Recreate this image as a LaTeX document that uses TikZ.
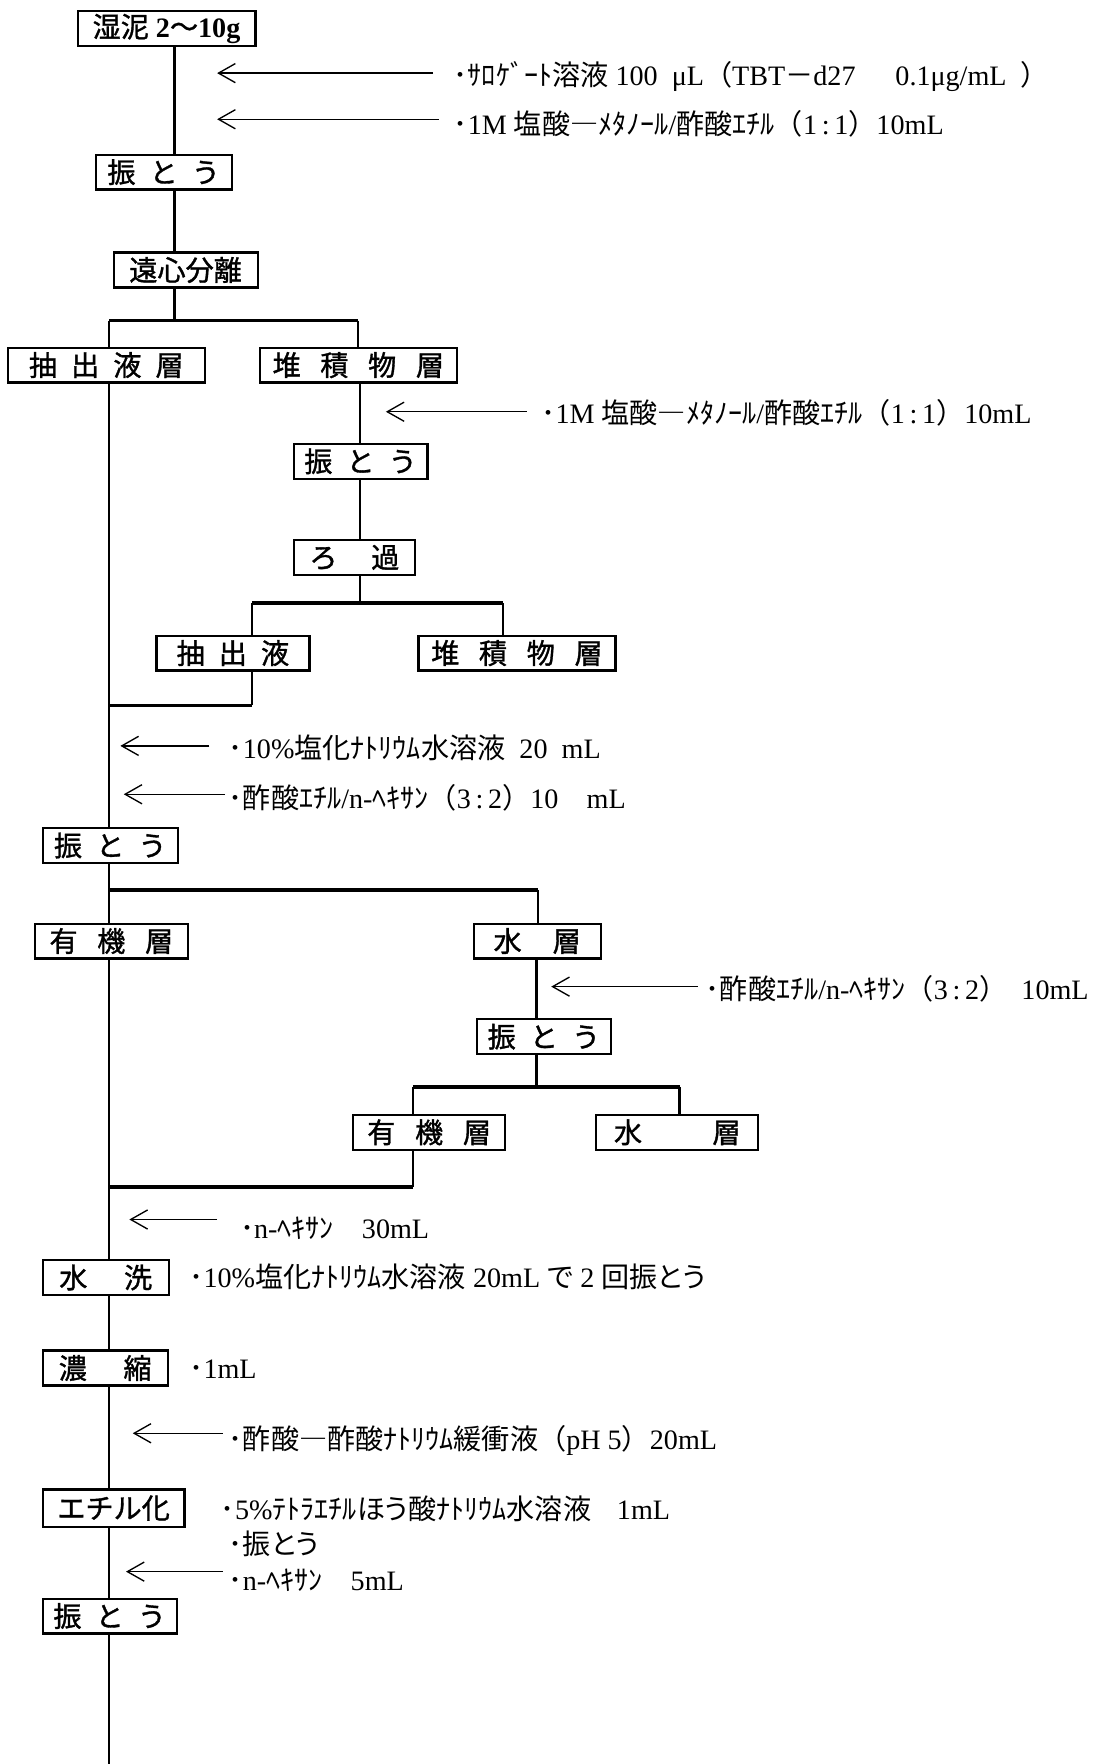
\documentclass[tikz,border=0pt]{standalone}
\usepackage{fontspec}
\setmainfont{Liberation Serif}
\newfontfamily\jp{Noto Sans CJK JP}
\newfontfamily\jpp{Noto Sans CJK JP}[RawFeature=+palt]
\newfontfamily\jpb{Noto Sans CJK JP}[FakeBold=1.2]
\usetikzlibrary{arrows.meta}
\newcommand{\gap}[1][.5em]{\hspace{#1}}

\tikzset{
  box/.style={draw, line width=1pt, inner sep=0pt, minimum height=15.5pt,
    font=\jpb\fontsize{12.5}{14}\selectfont},
  note/.style={anchor=west, inner sep=0pt, font=\fontsize{12.5}{14}\selectfont},
  flow/.style={line width=1.1pt},
  fork/.style={line width=1.6pt},
  addarrow/.style={line width=0.6pt, -{Straight Barb[length=7.5pt,width=8.5pt]}},
}

\begin{document}
\begin{tikzpicture}[x=0.5pt,y=-0.5pt]
\useasboundingbox (0,0) rectangle (976,1568);

% Process boxes
\node[box, minimum width=79pt] (wet) at (148,25.5) {湿泥\gap[.25em]{\rmfamily\bfseries 2}～{\rmfamily\bfseries 10g}};
\node[box, minimum width=60.5pt] (shk1) at (145.5,153) {振\gap と\gap う};
\node[box, minimum width=64pt] (cent) at (165,240) {遠心分離};
\node[box, minimum width=87.5pt] (ext1) at (94.5,324.5) {抽\gap 出\gap 液\gap 層};
\node[box, minimum width=87.5pt] (sed1) at (318.5,324.5) {堆\gap[.7em]積\gap[.7em]物\gap[.7em]層};
\node[box, minimum width=59.5pt] (shk2) at (320.5,410) {振\gap と\gap う};
\node[box, minimum width=54pt] (filt) at (315,495.5) {ろ\gap[1.2em]過};
\node[box, minimum width=68pt] (ext2) at (207,580.5) {抽\gap 出\gap 液};
\node[box, minimum width=87.5pt] (sed2) at (459.5,580.5) {堆\gap[.7em]積\gap[.7em]物\gap[.7em]層};
\node[box, minimum width=60pt] (shk3) at (98,751.5) {振\gap と\gap う};
\node[box, minimum width=68pt] (org1) at (99,836.5) {有\gap[.7em]機\gap[.7em]層};
\node[box, minimum width=56.5pt] (aq1) at (477.5,836.5) {水\gap[1.1em]層};
\node[box, minimum width=59.5pt] (shk4) at (483.5,921.5) {振\gap と\gap う};
\node[box, minimum width=67.5pt] (org2) at (381.5,1006.5) {有\gap[.7em]機\gap[.7em]層};
\node[box, minimum width=72pt] (aq2) at (602,1006.5) {水\gap[2.5em]層};
\node[box, minimum width=56pt] (wash) at (94,1135.5) {水\gap[1.3em]洗};
\node[box, minimum width=55.5pt] (conc) at (93.5,1216) {濃\gap[1.3em]縮};
\node[box, minimum width=63pt, minimum height=16.5pt] (ethyl) at (101,1340.5) {エチル化};
\node[box, minimum width=59.5pt] (shk5) at (97.5,1436.5) {振\gap と\gap う};

% Reagent notes
\node[note] (t1) at (403,68) {{\jp ･ｻﾛｹﾞｰﾄ溶液} 100\enspace μL{\jp （}TBT{\jp －}d27\quad\, 0.1μg/mL\enspace{\jp ）}};
\node[note] (t2) at (403,110) {{\jp ･}1M {\jp 塩酸―ﾒﾀﾉｰﾙ}/{\jp 酢酸ｴﾁﾙ（}1\,:\,1{\jp ）}10mL};
\node[note] (t3) at (481,367) {{\jp ･}1M {\jp 塩酸―ﾒﾀﾉｰﾙ}/{\jp 酢酸ｴﾁﾙ（}1\,:\,1{\jp ）}10mL};
\node[note] (t4) at (203,665) {{\jp ･}10\%{\jp 塩化ﾅﾄﾘｳﾑ水溶液}\enspace 20\enspace mL};
\node[note] (t5) at (203,709) {{\jp ･酢酸ｴﾁﾙ}/n-{\jp ﾍｷｻﾝ（}3\,:\,2{\jp ）}10\quad mL};
\node[note] (t6) at (627,879) {{\jp ･酢酸ｴﾁﾙ}/n-{\jp ﾍｷｻﾝ（}3\,:\,2{\jp ）}\enspace 10mL};
\node[note] (t7) at (213,1092) {{\jp ･}n-{\jp ﾍｷｻﾝ}\quad 30mL};
\node[note] (t8) at (168,1135) {{\jp ･}10\%{\jp 塩化ﾅﾄﾘｳﾑ水溶液} 20mL {\jpp で} 2 {\jp 回}{\jpp 振とう}};
\node[note] (t9) at (168,1217) {{\jp ･}1mL};
\node[note] (t10) at (203,1280) {{\jp ･酢酸―酢酸ﾅﾄﾘｳﾑ緩衝液（}pH 5{\jp ）}20mL};
\node[note] (t11) at (196,1341) {{\jp ･}5\%{\jp ﾃﾄﾗｴﾁﾙ}{\jpp ほう}{\jp 酸ﾅﾄﾘｳﾑ水溶液}\enspace\, 1mL};
\node[note] (t12) at (203,1372) {{\jp ･}{\jpp 振とう}};
\node[note] (t13) at (203,1405) {{\jp ･}n-{\jp ﾍｷｻﾝ}\quad 5mL};

% Fork and join points
\coordinate (f1) at (155,285);
\coordinate (f1l) at (97,285);
\coordinate (f1r) at (318,285);
\coordinate (f2) at (320,536);
\coordinate (f2l) at (224,536);
\coordinate (f2r) at (447,536);
\coordinate (j1) at (97,627);
\coordinate (f3) at (97,791);
\coordinate (f3r) at (478,791);
\coordinate (f4) at (477,966);
\coordinate (f4l) at (367,966);
\coordinate (f4r) at (604,966);
\coordinate (j2) at (97,1055);
\coordinate (bot) at (97,1568);

% Main flow
\draw[flow] (wet.south -| f1) -- (shk1.north -| f1);
\draw[flow] (shk1.south -| f1) -- (cent.north -| f1);
\draw[flow] (cent.south -| f1) -- (f1);
\draw[fork] (f1l) -- (f1r);
\draw[flow] (f1l) -- (ext1.north -| f1l);
\draw[flow] (f1r) -- (sed1.north -| f1r);
\draw[flow] (sed1.south -| f2) -- (shk2.north -| f2);
\draw[flow] (shk2.south -| f2) -- (filt.north -| f2);
\draw[flow] (filt.south -| f2) -- (f2);
\draw[fork] (f2l) -- (f2r);
\draw[flow] (f2l) -- (ext2.north -| f2l);
\draw[flow] (f2r) -- (sed2.north -| f2r);
\draw[flow] (ext2.south -| f2l) -- (j1 -| f2l);
\draw[fork] (j1 -| f2l) -- (j1);
\draw[flow] (ext1.south -| j1) -- (shk3.north -| j1);
\draw[flow] (shk3.south -| f3) -- (f3);
\draw[fork] (f3) -- (f3r);
\draw[flow] (f3r) -- (aq1.north -| f3r);
\draw[flow] (f3) -- (org1.north -| f3);
\draw[flow] (aq1.south -| f4) -- (shk4.north -| f4);
\draw[flow] (shk4.south -| f4) -- (f4);
\draw[fork] (f4l) -- (f4r);
\draw[flow] (f4l) -- (org2.north -| f4l);
\draw[flow] (f4r) -- (aq2.north -| f4r);
\draw[flow] (org2.south -| f4l) -- (j2 -| f4l);
\draw[fork] (j2 -| f4l) -- (j2);
\draw[flow] (org1.south -| j2) -- (wash.north -| j2);
\draw[flow] (wash.south -| j2) -- (conc.north -| j2);
\draw[flow] (conc.south -| j2) -- (ethyl.north -| j2);
\draw[flow] (ethyl.south -| j2) -- (shk5.north -| j2);
\draw[flow] (shk5.south -| j2) -- (bot);

% Reagent arrows
\coordinate (h1) at (193,65);
\coordinate (h2) at (193,106);
\coordinate (h3) at (343,366);
\coordinate (h4) at (107,663);
\coordinate (h5) at (110,706);
\coordinate (h6) at (490,877);
\coordinate (h7) at (115,1084);
\coordinate (h8) at (118,1274);
\coordinate (h9) at (112,1397);
\draw[addarrow] (h1 -| t1.west) ++(-18,0) -- (h1);
\draw[addarrow] (h2 -| t2.west) ++(-13,0) -- (h2);
\draw[addarrow] (h3 -| t3.west) ++(-13,0) -- (h3);
\draw[addarrow] (h4 -| t4.west) ++(-17,0) -- (h4);
\draw[addarrow] (h5 -| t5.west) ++(-3,0) -- (h5);
\draw[addarrow] (h6 -| t6.west) ++(-7,0) -- (h6);
\draw[addarrow] (h7 -| t7.west) ++(-20,0) -- (h7);
\draw[addarrow] (h8 -| t10.west) ++(-5,0) -- (h8);
\draw[addarrow] (h9 -| t13.west) ++(-5,0) -- (h9);
\end{tikzpicture}
\end{document}
